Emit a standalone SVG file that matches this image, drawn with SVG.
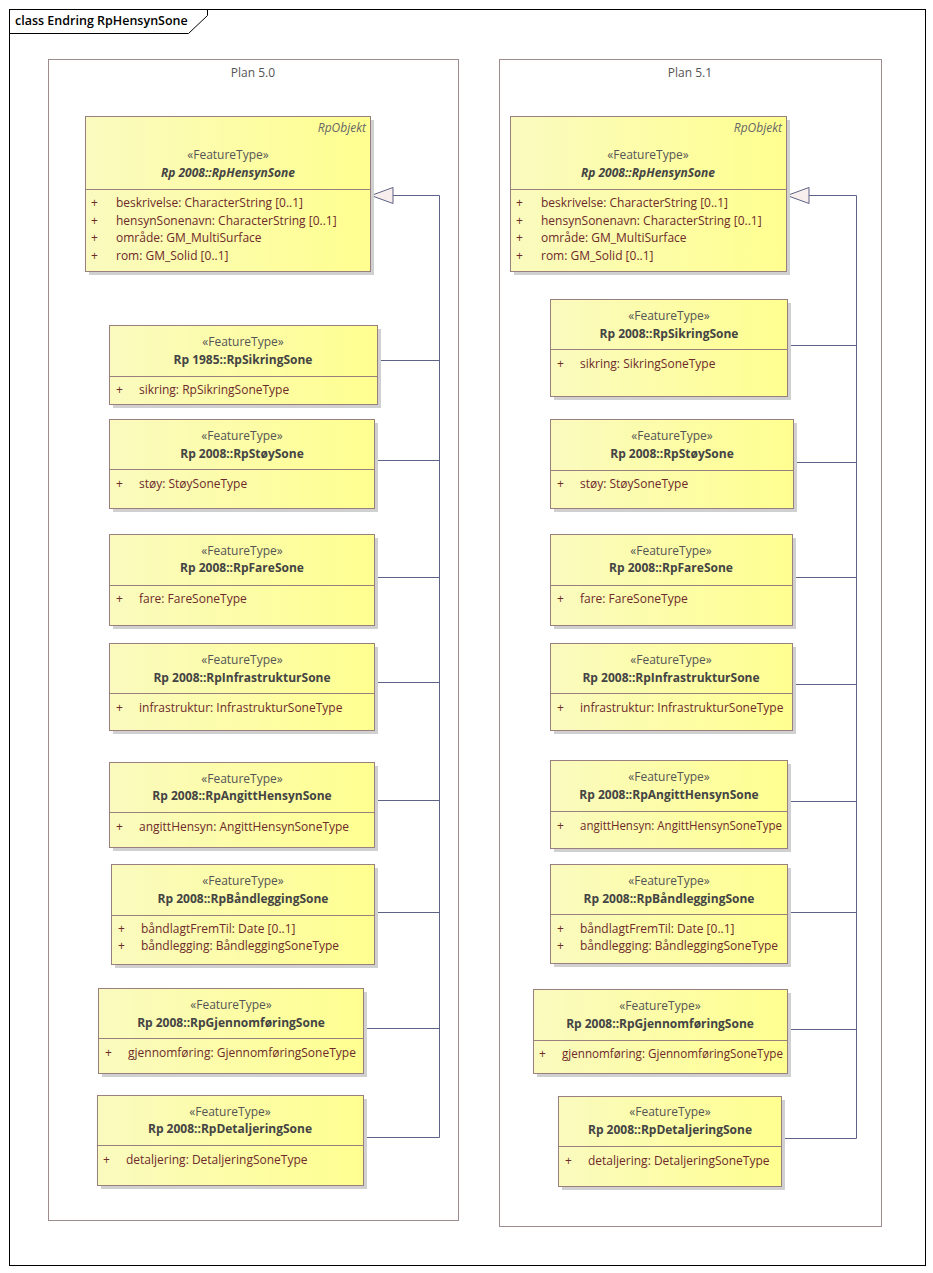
<svg xmlns="http://www.w3.org/2000/svg" width="933" height="1273" viewBox="0 0 933 1273">
<defs>
<linearGradient id="yg" x1="0" y1="0" x2="1" y2="0">
<stop offset="0" stop-color="#fafabf"/>
<stop offset="1" stop-color="#ffff90"/>
</linearGradient>
<style>
text{font-family:"Open Sans","Liberation Sans",sans-serif;font-size:12px}
.sh{fill:#d0d0d0}
.bx{fill:url(#yg);stroke:#9a7f7f;stroke-width:1}
.dv{stroke:#9a7f7f;stroke-width:1}
.st{fill:#555555;text-anchor:middle}
.nm{fill:#444444;font-weight:bold;text-anchor:middle}
.nmi{fill:#444444;font-weight:bold;font-style:italic;text-anchor:middle}
.ab{fill:#666666;font-style:italic;text-anchor:end}
.at{fill:#6e2a2a}
.pk{fill:none;stroke:#9e8c8c;stroke-width:1}
.pl{fill:#555555;text-anchor:middle}
.cn{fill:none;stroke:#5c6386;stroke-width:1}
</style>
</defs>
<rect x="0" y="0" width="933" height="1273" fill="#ffffff"/>
<g id="frame">
<rect x="9.5" y="9.5" width="916" height="1256" fill="none" stroke="#000000" stroke-width="1"/>
<path d="M9.5,33.5 H188.5 L207.5,15.5 V9.5" fill="none" stroke="#000000" stroke-width="1"/>
<text x="15" y="25" style="font-weight:600;font-size:12.5px" fill="#000000">class Endring RpHensynSone</text>
</g>
<g id="pkg50">
<rect class="pk" x="48.5" y="59.5" width="410" height="1161"/>
<text class="pl" x="253" y="77">Plan 5.0</text>
</g>
<g id="pkg51">
<rect class="pk" x="499.5" y="59.5" width="382" height="1167"/>
<text class="pl" x="690" y="77">Plan 5.1</text>
</g>
<g id="connectors">
<path class="cn" d="M393,195.5 H439.5 V1137.5 H363"/>
<path class="cn" d="M377,360.5 H439.5"/>
<path class="cn" d="M374,460.5 H439.5"/>
<path class="cn" d="M374,577.5 H439.5"/>
<path class="cn" d="M374,682.5 H439.5"/>
<path class="cn" d="M374,800.5 H439.5"/>
<path class="cn" d="M374,912.5 H439.5"/>
<path class="cn" d="M363,1028.5 H439.5"/>
<polygon points="371,195.5 393,187.5 393,203.5" fill="#f8eeee" stroke="#5c6386" stroke-width="1"/>
<path class="cn" d="M809,195.5 H856.5 V1138.5 H781"/>
<path class="cn" d="M787,345.5 H856.5"/>
<path class="cn" d="M792,462.5 H856.5"/>
<path class="cn" d="M792,577.5 H856.5"/>
<path class="cn" d="M792,684.5 H856.5"/>
<path class="cn" d="M787,801.5 H856.5"/>
<path class="cn" d="M787,912.5 H856.5"/>
<path class="cn" d="M787,1029.5 H856.5"/>
<polygon points="787,195.5 809,187.5 809,203.5" fill="#f8eeee" stroke="#5c6386" stroke-width="1"/>
</g>
<g id="L_RpHensynSone">
<rect class="sh" x="89" y="120" width="285" height="155"/>
<rect class="bx" x="85.5" y="116.5" width="285" height="155"/>
<line class="dv" x1="85.5" y1="189.5" x2="370.5" y2="189.5"/>
<text class="ab" x="366" y="132">RpObjekt</text>
<text class="st" x="228" y="159">«FeatureType»</text>
<text class="nmi" x="228" y="177">Rp 2008::RpHensynSone</text>
<text class="at" x="91" y="207">+</text><text class="at" x="116" y="207">beskrivelse: CharacterString [0..1]</text>
<text class="at" x="91" y="224.5">+</text><text class="at" x="116" y="224.5">hensynSonenavn: CharacterString [0..1]</text>
<text class="at" x="91" y="242">+</text><text class="at" x="116" y="242">område: GM_MultiSurface</text>
<text class="at" x="91" y="260">+</text><text class="at" x="116" y="260">rom: GM_Solid [0..1]</text>
</g>
<g id="L_RpSikringSone">
<rect class="sh" x="113" y="329" width="268" height="79"/>
<rect class="bx" x="109.5" y="325.5" width="268" height="79"/>
<line class="dv" x1="109.5" y1="376.5" x2="377.5" y2="376.5"/>
<text class="st" x="243" y="346">«FeatureType»</text>
<text class="nm" x="243" y="364">Rp 1985::RpSikringSone</text>
<text class="at" x="116" y="394">+</text><text class="at" x="139" y="394">sikring: RpSikringSoneType</text>
</g>
<g id="L_RpStoySone">
<rect class="sh" x="113" y="423" width="265" height="89"/>
<rect class="bx" x="109.5" y="419.5" width="265" height="89"/>
<line class="dv" x1="109.5" y1="469.5" x2="374.5" y2="469.5"/>
<text class="st" x="242" y="440">«FeatureType»</text>
<text class="nm" x="242" y="458">Rp 2008::RpStøySone</text>
<text class="at" x="116" y="488">+</text><text class="at" x="139" y="488">støy: StøySoneType</text>
</g>
<g id="L_RpFareSone">
<rect class="sh" x="113" y="538" width="265" height="91"/>
<rect class="bx" x="109.5" y="534.5" width="265" height="91"/>
<line class="dv" x1="109.5" y1="585.5" x2="374.5" y2="585.5"/>
<text class="st" x="242" y="555">«FeatureType»</text>
<text class="nm" x="242" y="572">Rp 2008::RpFareSone</text>
<text class="at" x="116" y="603">+</text><text class="at" x="139" y="603">fare: FareSoneType</text>
</g>
<g id="L_RpInfrastrukturSone">
<rect class="sh" x="113" y="647" width="265" height="87"/>
<rect class="bx" x="109.5" y="643.5" width="265" height="87"/>
<line class="dv" x1="109.5" y1="693.5" x2="374.5" y2="693.5"/>
<text class="st" x="242" y="664">«FeatureType»</text>
<text class="nm" x="242" y="682">Rp 2008::RpInfrastrukturSone</text>
<text class="at" x="116" y="712">+</text><text class="at" x="139" y="712">infrastruktur: InfrastrukturSoneType</text>
</g>
<g id="L_RpAngittHensynSone">
<rect class="sh" x="113" y="766" width="265" height="85"/>
<rect class="bx" x="109.5" y="762.5" width="265" height="85"/>
<line class="dv" x1="109.5" y1="812.5" x2="374.5" y2="812.5"/>
<text class="st" x="242" y="783">«FeatureType»</text>
<text class="nm" x="242" y="800">Rp 2008::RpAngittHensynSone</text>
<text class="at" x="116" y="831">+</text><text class="at" x="139" y="831">angittHensyn: AngittHensynSoneType</text>
</g>
<g id="L_RpBandleggingSone">
<rect class="sh" x="115" y="868" width="263" height="100"/>
<rect class="bx" x="111.5" y="864.5" width="263" height="100"/>
<line class="dv" x1="111.5" y1="915.5" x2="374.5" y2="915.5"/>
<text class="st" x="243" y="885">«FeatureType»</text>
<text class="nm" x="243" y="903">Rp 2008::RpBåndleggingSone</text>
<text class="at" x="118" y="933">+</text><text class="at" x="141" y="933">båndlagtFremTil: Date [0..1]</text>
<text class="at" x="118" y="950">+</text><text class="at" x="141" y="950">båndlegging: BåndleggingSoneType</text>
</g>
<g id="L_RpGjennomforingSone">
<rect class="sh" x="102" y="992" width="265" height="85"/>
<rect class="bx" x="98.5" y="988.5" width="265" height="85"/>
<line class="dv" x1="98.5" y1="1038.5" x2="363.5" y2="1038.5"/>
<text class="st" x="231" y="1009">«FeatureType»</text>
<text class="nm" x="231" y="1027">Rp 2008::RpGjennomføringSone</text>
<text class="at" x="105" y="1057">+</text><text class="at" x="128" y="1057">gjennomføring: GjennomføringSoneType</text>
</g>
<g id="L_RpDetaljeringSone">
<rect class="sh" x="101" y="1099" width="266" height="90"/>
<rect class="bx" x="97.5" y="1095.5" width="266" height="90"/>
<line class="dv" x1="97.5" y1="1145.5" x2="363.5" y2="1145.5"/>
<text class="st" x="230" y="1116">«FeatureType»</text>
<text class="nm" x="230" y="1133">Rp 2008::RpDetaljeringSone</text>
<text class="at" x="103" y="1164">+</text><text class="at" x="126" y="1164">detaljering: DetaljeringSoneType</text>
</g>
<g id="R_RpHensynSone">
<rect class="sh" x="514" y="120" width="276" height="155"/>
<rect class="bx" x="510.5" y="116.5" width="276" height="155"/>
<line class="dv" x1="510.5" y1="189.5" x2="786.5" y2="189.5"/>
<text class="ab" x="782" y="132">RpObjekt</text>
<text class="st" x="648" y="159">«FeatureType»</text>
<text class="nmi" x="648" y="177">Rp 2008::RpHensynSone</text>
<text class="at" x="516" y="207">+</text><text class="at" x="541" y="207">beskrivelse: CharacterString [0..1]</text>
<text class="at" x="516" y="224.5">+</text><text class="at" x="541" y="224.5">hensynSonenavn: CharacterString [0..1]</text>
<text class="at" x="516" y="242">+</text><text class="at" x="541" y="242">område: GM_MultiSurface</text>
<text class="at" x="516" y="260">+</text><text class="at" x="541" y="260">rom: GM_Solid [0..1]</text>
</g>
<g id="R_RpSikringSone">
<rect class="sh" x="554" y="303" width="237" height="97"/>
<rect class="bx" x="550.5" y="299.5" width="237" height="97"/>
<line class="dv" x1="550.5" y1="349.5" x2="787.5" y2="349.5"/>
<text class="st" x="669" y="320">«FeatureType»</text>
<text class="nm" x="669" y="338">Rp 2008::RpSikringSone</text>
<text class="at" x="557" y="368">+</text><text class="at" x="580" y="368">sikring: SikringSoneType</text>
</g>
<g id="R_RpStoySone">
<rect class="sh" x="554" y="423" width="243" height="89"/>
<rect class="bx" x="550.5" y="419.5" width="243" height="89"/>
<line class="dv" x1="550.5" y1="470.5" x2="793.5" y2="470.5"/>
<text class="st" x="672" y="440">«FeatureType»</text>
<text class="nm" x="672" y="458">Rp 2008::RpStøySone</text>
<text class="at" x="557" y="488">+</text><text class="at" x="580" y="488">støy: StøySoneType</text>
</g>
<g id="R_RpFareSone">
<rect class="sh" x="554" y="538" width="242" height="91"/>
<rect class="bx" x="550.5" y="534.5" width="242" height="91"/>
<line class="dv" x1="550.5" y1="585.5" x2="792.5" y2="585.5"/>
<text class="st" x="671" y="555">«FeatureType»</text>
<text class="nm" x="671" y="572">Rp 2008::RpFareSone</text>
<text class="at" x="557" y="603">+</text><text class="at" x="580" y="603">fare: FareSoneType</text>
</g>
<g id="R_RpInfrastrukturSone">
<rect class="sh" x="554" y="647" width="242" height="87"/>
<rect class="bx" x="550.5" y="643.5" width="242" height="87"/>
<line class="dv" x1="550.5" y1="693.5" x2="792.5" y2="693.5"/>
<text class="st" x="671" y="664">«FeatureType»</text>
<text class="nm" x="671" y="682">Rp 2008::RpInfrastrukturSone</text>
<text class="at" x="557" y="712">+</text><text class="at" x="580" y="712">infrastruktur: InfrastrukturSoneType</text>
</g>
<g id="R_RpAngittHensynSone">
<rect class="sh" x="554" y="764" width="237" height="88"/>
<rect class="bx" x="550.5" y="760.5" width="237" height="88"/>
<line class="dv" x1="550.5" y1="811.5" x2="787.5" y2="811.5"/>
<text class="st" x="669" y="781">«FeatureType»</text>
<text class="nm" x="669" y="799">Rp 2008::RpAngittHensynSone</text>
<text class="at" x="557" y="830">+</text><text class="at" x="580" y="830" textLength="202" lengthAdjust="spacingAndGlyphs">angittHensyn: AngittHensynSoneType</text>
</g>
<g id="R_RpBandleggingSone">
<rect class="sh" x="554" y="868" width="237" height="99"/>
<rect class="bx" x="550.5" y="864.5" width="237" height="99"/>
<line class="dv" x1="550.5" y1="914.5" x2="787.5" y2="914.5"/>
<text class="st" x="669" y="885">«FeatureType»</text>
<text class="nm" x="669" y="903">Rp 2008::RpBåndleggingSone</text>
<text class="at" x="557" y="933">+</text><text class="at" x="580" y="933">båndlagtFremTil: Date [0..1]</text>
<text class="at" x="557" y="950">+</text><text class="at" x="580" y="950">båndlegging: BåndleggingSoneType</text>
</g>
<g id="R_RpGjennomforingSone">
<rect class="sh" x="537" y="993" width="254" height="84"/>
<rect class="bx" x="533.5" y="989.5" width="254" height="84"/>
<line class="dv" x1="533.5" y1="1040.5" x2="787.5" y2="1040.5"/>
<text class="st" x="660" y="1010">«FeatureType»</text>
<text class="nm" x="660" y="1028">Rp 2008::RpGjennomføringSone</text>
<text class="at" x="539" y="1058">+</text><text class="at" x="562" y="1058" textLength="221" lengthAdjust="spacingAndGlyphs">gjennomføring: GjennomføringSoneType</text>
</g>
<g id="R_RpDetaljeringSone">
<rect class="sh" x="562" y="1100" width="223" height="90"/>
<rect class="bx" x="558.5" y="1096.5" width="223" height="90"/>
<line class="dv" x1="558.5" y1="1146.5" x2="781.5" y2="1146.5"/>
<text class="st" x="670" y="1116">«FeatureType»</text>
<text class="nm" x="670" y="1134">Rp 2008::RpDetaljeringSone</text>
<text class="at" x="565" y="1165">+</text><text class="at" x="588" y="1165">detaljering: DetaljeringSoneType</text>
</g>
</svg>
